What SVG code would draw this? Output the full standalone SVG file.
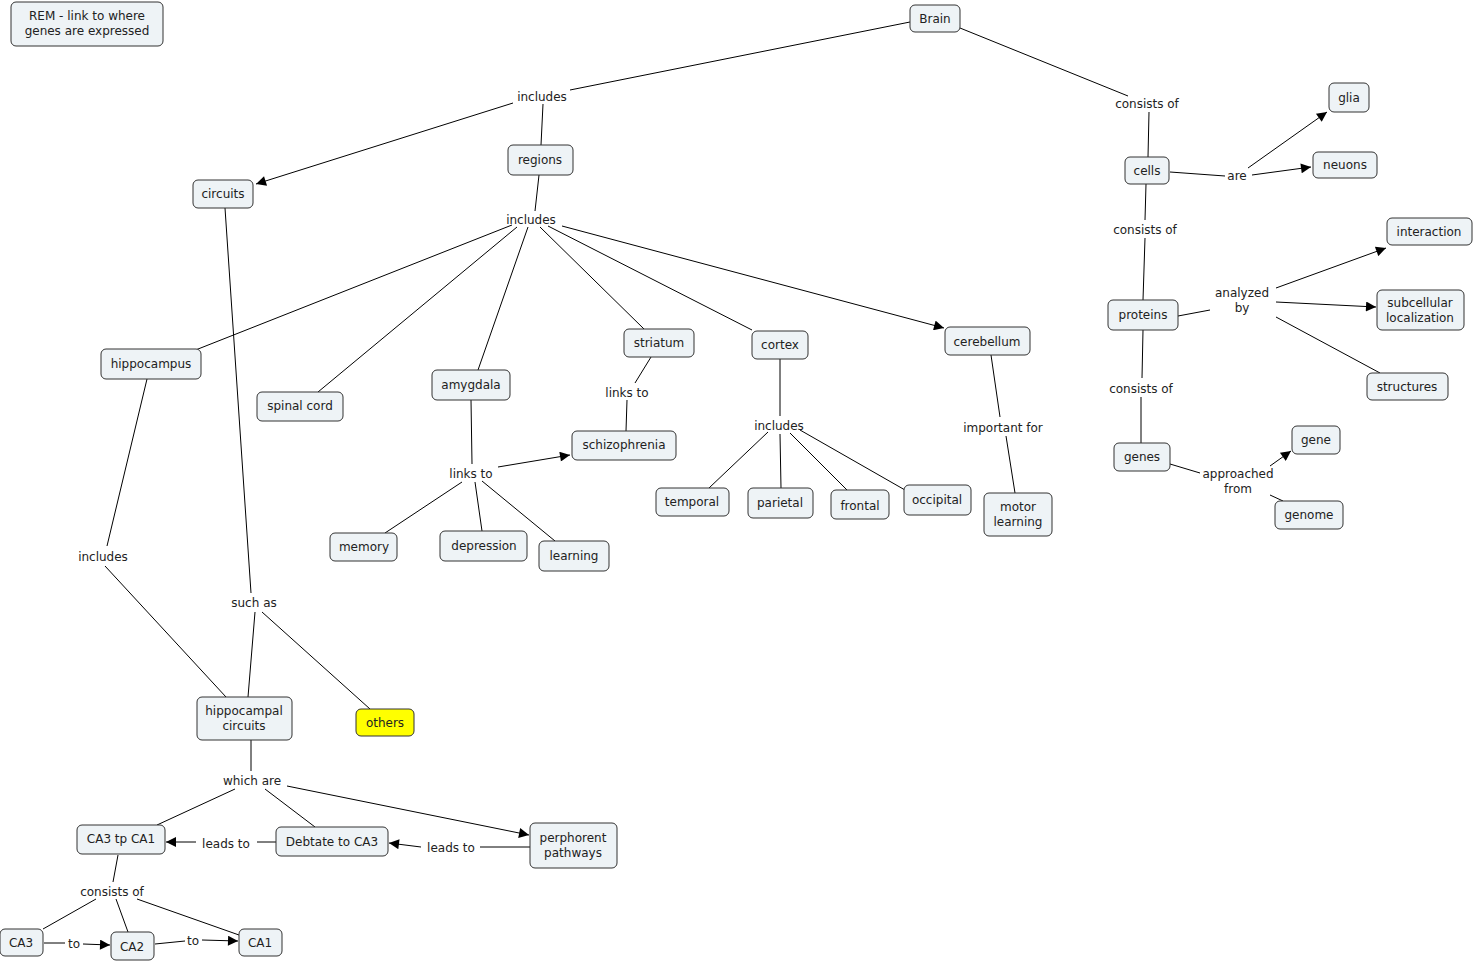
<svg xmlns="http://www.w3.org/2000/svg" width="1474" height="962" viewBox="0 0 1474 962">
<defs>
<style>
.n rect{fill:#eef3f6;stroke:#333;stroke-width:1}
text{font-family:"DejaVu Sans",Verdana,sans-serif;font-size:12px;fill:#222;text-anchor:middle}
.c line{stroke:#000;stroke-width:1}
.a{marker-end:url(#ah)}
.lb{fill:#fff}
</style>
<marker id="ah" viewBox="0 0 10 10" refX="10" refY="5" markerWidth="12" markerHeight="10" markerUnits="userSpaceOnUse" orient="auto"><path d="M0,0L10,5L0,10z" fill="#000"/></marker>
</defs>
<rect width="1474" height="962" fill="#fff"/>
<g class="c">
<line x1="910" y1="22" x2="570" y2="90"/><line x1="513" y1="103" x2="256" y2="184" class="a"/><line x1="543" y1="104" x2="541" y2="145"/>
<line x1="960" y1="28" x2="1128" y2="96"/><line x1="1149" y1="112" x2="1148" y2="157"/>
<line x1="539" y1="175" x2="535" y2="211"/>
<line x1="512" y1="225" x2="193" y2="351"/><line x1="517" y1="227" x2="318" y2="392"/><line x1="528" y1="227" x2="478" y2="370"/><line x1="540" y1="227" x2="644" y2="329"/><line x1="548" y1="226" x2="752" y2="330"/><line x1="562" y1="226" x2="944" y2="328" class="a"/>
<line x1="1170" y1="172" x2="1225" y2="176"/><line x1="1248" y1="168" x2="1327" y2="112" class="a"/><line x1="1252" y1="175" x2="1311" y2="167" class="a"/>
<line x1="1146" y1="184" x2="1145" y2="220"/><line x1="1145" y1="238" x2="1143" y2="300"/>
<line x1="1178" y1="316" x2="1210" y2="310"/><line x1="1276" y1="288" x2="1386" y2="248" class="a"/><line x1="1276" y1="302" x2="1376" y2="307" class="a"/><line x1="1276" y1="317" x2="1380" y2="373"/>
<line x1="1143" y1="330" x2="1142" y2="378"/><line x1="1141" y1="397" x2="1141" y2="443"/>
<line x1="1170" y1="464" x2="1200" y2="473"/><line x1="1270" y1="466" x2="1291" y2="451" class="a"/><line x1="1270" y1="495" x2="1283" y2="501"/>
<line x1="651" y1="357" x2="635" y2="383"/><line x1="627" y1="400" x2="626" y2="431"/>
<line x1="780" y1="359" x2="780" y2="416"/><line x1="768" y1="432" x2="709" y2="488"/><line x1="780" y1="434" x2="781" y2="488"/><line x1="790" y1="433" x2="847" y2="490"/><line x1="800" y1="430" x2="905" y2="490"/>
<line x1="991" y1="355" x2="1000" y2="417"/><line x1="1006" y1="436" x2="1015" y2="493"/>
<line x1="471" y1="400" x2="472" y2="464"/><line x1="498" y1="467" x2="570" y2="455" class="a"/><line x1="462" y1="482" x2="385" y2="533"/><line x1="475" y1="482" x2="482" y2="531"/><line x1="482" y1="481" x2="555" y2="541"/>
<line x1="147" y1="379" x2="107" y2="546"/><line x1="105" y1="566" x2="226" y2="697"/>
<line x1="225" y1="208" x2="251" y2="593"/><line x1="255" y1="612" x2="248" y2="697"/><line x1="262" y1="612" x2="370" y2="709"/>
<line x1="251" y1="740" x2="251" y2="771"/><line x1="235" y1="789" x2="157" y2="825"/><line x1="265" y1="789" x2="315" y2="827"/><line x1="287" y1="786" x2="529" y2="835" class="a"/>
<line x1="276" y1="842" x2="257" y2="842"/><line x1="196" y1="842" x2="166" y2="842" class="a"/>
<line x1="530" y1="847" x2="480" y2="847"/><line x1="421" y1="847" x2="389" y2="843" class="a"/>
<line x1="118" y1="855" x2="113" y2="882"/><line x1="96" y1="899" x2="43" y2="929"/><line x1="116" y1="899" x2="128" y2="932"/><line x1="137" y1="899" x2="239" y2="935"/>
<line x1="44" y1="943" x2="65" y2="943"/><line x1="83" y1="944" x2="110" y2="945" class="a"/>
<line x1="155" y1="944" x2="185" y2="941"/><line x1="202" y1="940" x2="238" y2="941" class="a"/>
</g>
<g class="lbl">
<text x="542" y="101">includes</text><text x="1147" y="108">consists of</text><text x="531" y="224">includes</text>
<text x="1237" y="180">are</text><text x="1145" y="234">consists of</text>
<text x="1242" y="297">analyzed</text><text x="1242" y="312">by</text>
<text x="1141" y="393">consists of</text>
<text x="1238" y="478">approached</text><text x="1238" y="493">from</text>
<text x="627" y="397">links to</text><text x="779" y="430">includes</text><text x="1003" y="432">important for</text>
<text x="471" y="478">links to</text><text x="103" y="561">includes</text><text x="254" y="607">such as</text>
<text x="252" y="785">which are</text><text x="226" y="848">leads to</text><text x="451" y="852">leads to</text>
<text x="112" y="896">consists of</text><text x="74" y="948">to</text><text x="193" y="945">to</text>
</g>
<g class="n" id="rem"><rect x="11" y="2" width="152" height="44" rx="5"/><text x="87" y="20">REM - link to where</text><text x="87" y="35">genes are expressed</text></g>
<g class="n" id="brain"><rect x="910" y="5" width="50" height="27" rx="5"/><text x="935" y="23">Brain</text></g>
<g class="n" id="regions"><rect x="508" y="145" width="65" height="30" rx="5"/><text x="540" y="164">regions</text></g>
<g class="n" id="circuits"><rect x="193" y="180" width="60" height="28" rx="5"/><text x="223" y="198">circuits</text></g>
<g class="n" id="cells"><rect x="1125" y="157" width="44" height="27" rx="5"/><text x="1147" y="175">cells</text></g>
<g class="n" id="glia"><rect x="1329" y="83" width="40" height="29" rx="5"/><text x="1349" y="102">glia</text></g>
<g class="n" id="neuons"><rect x="1313" y="152" width="64" height="26" rx="5"/><text x="1345" y="169">neuons</text></g>
<g class="n" id="interaction"><rect x="1387" y="218" width="85" height="27" rx="5"/><text x="1429" y="236">interaction</text></g>
<g class="n" id="proteins"><rect x="1108" y="300" width="70" height="30" rx="5"/><text x="1143" y="319">proteins</text></g>
<g class="n" id="subcellular"><rect x="1377" y="290" width="87" height="40" rx="5"/><text x="1420" y="307">subcellular</text><text x="1420" y="322">localization</text></g>
<g class="n" id="structures"><rect x="1367" y="373" width="81" height="27" rx="5"/><text x="1407" y="391">structures</text></g>
<g class="n" id="genes"><rect x="1114" y="443" width="56" height="28" rx="5"/><text x="1142" y="461">genes</text></g>
<g class="n" id="gene"><rect x="1292" y="426" width="48" height="28" rx="5"/><text x="1316" y="444">gene</text></g>
<g class="n" id="genome"><rect x="1275" y="501" width="68" height="28" rx="5"/><text x="1309" y="519">genome</text></g>
<g class="n" id="hippocampus"><rect x="101" y="349" width="100" height="30" rx="5"/><text x="151" y="368">hippocampus</text></g>
<g class="n" id="spinal"><rect x="257" y="392" width="86" height="29" rx="5"/><text x="300" y="410">spinal cord</text></g>
<g class="n" id="amygdala"><rect x="432" y="370" width="78" height="30" rx="5"/><text x="471" y="389">amygdala</text></g>
<g class="n" id="striatum"><rect x="624" y="329" width="70" height="28" rx="5"/><text x="659" y="347">striatum</text></g>
<g class="n" id="cortex"><rect x="752" y="331" width="56" height="28" rx="5"/><text x="780" y="349">cortex</text></g>
<g class="n" id="cerebellum"><rect x="945" y="327" width="85" height="28" rx="5"/><text x="987" y="346">cerebellum</text></g>
<g class="n" id="schizophrenia"><rect x="572" y="431" width="104" height="29" rx="5"/><text x="624" y="449">schizophrenia</text></g>
<g class="n" id="temporal"><rect x="656" y="488" width="73" height="28" rx="5"/><text x="692" y="506">temporal</text></g>
<g class="n" id="parietal"><rect x="748" y="488" width="65" height="30" rx="5"/><text x="780" y="507">parietal</text></g>
<g class="n" id="frontal"><rect x="831" y="490" width="58" height="29" rx="5"/><text x="860" y="510">frontal</text></g>
<g class="n" id="occipital"><rect x="904" y="485" width="67" height="30" rx="5"/><text x="937" y="504">occipital</text></g>
<g class="n" id="motor"><rect x="984" y="493" width="68" height="43" rx="5"/><text x="1018" y="511">motor</text><text x="1018" y="526">learning</text></g>
<g class="n" id="memory"><rect x="330" y="533" width="67" height="28" rx="5"/><text x="364" y="551">memory</text></g>
<g class="n" id="depression"><rect x="440" y="531" width="87" height="30" rx="5"/><text x="484" y="550">depression</text></g>
<g class="n" id="learning"><rect x="539" y="541" width="70" height="30" rx="5"/><text x="574" y="560">learning</text></g>
<g class="n" id="hcircuits"><rect x="197" y="697" width="95" height="43" rx="5"/><text x="244" y="715">hippocampal</text><text x="244" y="730">circuits</text></g>
<g class="n" id="others"><rect x="356" y="709" width="58" height="27" rx="5" style="fill:#ffff00"/><text x="385" y="727">others</text></g>
<g class="n" id="ca3tp"><rect x="77" y="825" width="88" height="29" rx="5"/><text x="121" y="843">CA3 tp CA1</text></g>
<g class="n" id="debtate"><rect x="276" y="827" width="112" height="29" rx="5"/><text x="332" y="846">Debtate to CA3</text></g>
<g class="n" id="perphorent"><rect x="530" y="823" width="87" height="45" rx="5"/><text x="573" y="842">perphorent</text><text x="573" y="857">pathways</text></g>
<g class="n" id="ca3"><rect x="0" y="929" width="43" height="27" rx="5"/><text x="21" y="947">CA3</text></g>
<g class="n" id="ca2"><rect x="111" y="932" width="43" height="28" rx="5"/><text x="132" y="951">CA2</text></g>
<g class="n" id="ca1"><rect x="239" y="929" width="43" height="27" rx="5"/><text x="260" y="947">CA1</text></g>
</svg>
